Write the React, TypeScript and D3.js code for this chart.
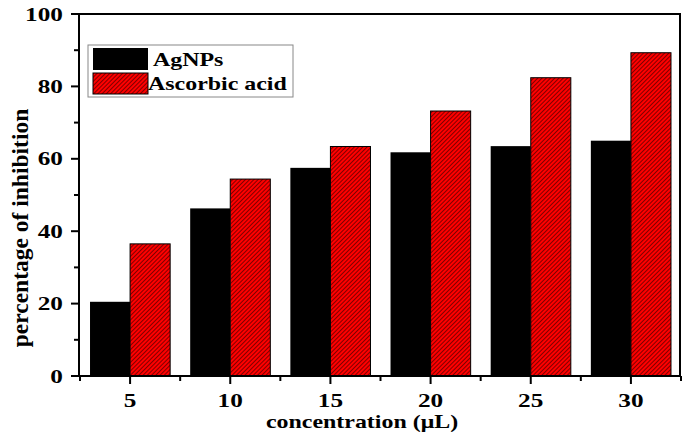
import * as d3 from "d3"

const concentrations = [5, 10, 15, 20, 25, 30]
const agnps = [20.5, 46.3, 57.5, 61.8, 63.5, 65.0]
const ascorbic = [36.5, 54.4, 63.4, 73.2, 82.4, 89.3]
const yTicks = [0, 20, 40, 60, 80, 100]
const seriesNames = ["AgNPs", "Ascorbic acid"]

const W = 685
const H = 440
const M = { left: 79, right: 5, top: 14, bottom: 64 }
const FONT = "'Liberation Serif', 'Times New Roman', serif"
// the source figure is stretched sideways, so its lettering is too
const STRETCH = 1.33

function Label({ x, y, anchor = "start", size, children }: { x: number; y: number; anchor?: string; size: number; children: any }) {
  return (
    <text transform={`translate(${x},${y}) scale(${STRETCH},1)`} textAnchor={anchor} fontSize={size} fontWeight="bold">
      {children}
    </text>
  )
}

export default function App() {
  const x = d3.scaleLinear().domain([2.45, 32.45]).range([M.left, W - M.right])
  const y = d3.scaleLinear().domain([0, 100]).range([H - M.bottom, M.top])
  const barW = x(2) - x(0)
  const x0 = x.range()[0]
  const x1 = x.range()[1]
  const y0 = y(0)
  const yTop = y(100)
  const minorX = d3.range(2.5, 33, 2.5).filter((v) => !concentrations.includes(v))
  const minorY = d3.range(10, 100, 20)

  return (
    <svg width={W} height={H} style={{ position: "absolute", left: 0, top: 0, background: "#fff" }} fontFamily={FONT}>
      <defs>
        <pattern id="hatch" patternUnits="userSpaceOnUse" width={3} height={3} patternTransform="rotate(45)">
          <rect width={3} height={3} fill="#ff0000" />
          <line x1={0} y1={0} x2={0} y2={3} stroke="#000" strokeWidth={1} />
        </pattern>
      </defs>

      {concentrations.map((c, i) => (
        <g key={c}>
          <rect x={x(c) - barW} y={y(agnps[i])} width={barW} height={y0 - y(agnps[i])} fill="#000" />
          <rect
            x={x(c)}
            y={y(ascorbic[i])}
            width={barW}
            height={y0 - y(ascorbic[i])}
            fill="url(#hatch)"
            stroke="#000"
            strokeWidth={1}
          />
        </g>
      ))}

      {/* frame */}
      <rect x={x0} y={yTop} width={x1 - x0} height={y0 - yTop} fill="none" stroke="#000" strokeWidth={2} />

      {/* y axis */}
      {yTicks.map((t) => (
        <g key={t}>
          <line x1={x0 - 8} x2={x0} y1={y(t)} y2={y(t)} stroke="#000" strokeWidth={2} />
          <Label x={x0 - 16} y={y(t) + 6.5} anchor="end" size={19}>
            {t}
          </Label>
        </g>
      ))}
      {minorY.map((t) => (
        <line key={t} x1={x0 - 5} x2={x0} y1={y(t)} y2={y(t)} stroke="#000" strokeWidth={2} />
      ))}

      {/* x axis */}
      {concentrations.map((c) => (
        <g key={c}>
          <line x1={x(c)} x2={x(c)} y1={y0} y2={y0 + 8} stroke="#000" strokeWidth={2} />
          <Label x={x(c)} y={y0 + 31} anchor="middle" size={19}>
            {c}
          </Label>
        </g>
      ))}
      {minorX.map((c) => (
        <line key={c} x1={x(c)} x2={x(c)} y1={y0} y2={y0 + 5} stroke="#000" strokeWidth={2} />
      ))}

      <Label x={362} y={428} anchor="middle" size={18}>
        concentration (μL)
      </Label>
      <text transform="translate(28, 228) rotate(-90)" textAnchor="middle" fontSize={23.5} fontWeight="bold">
        percentage of inhibition
      </text>

      {/* legend */}
      <rect x={88} y={45} width={205} height={52} fill="#fff" stroke="#888" strokeWidth={1} />
      <rect x={93} y={48} width={55} height={22} fill="#000" />
      <rect x={93} y={73} width={55} height={21} fill="url(#hatch)" stroke="#000" strokeWidth={1} />
      <Label x={153} y={66} size={18}>
        {seriesNames[0]}
      </Label>
      <Label x={148} y={90} size={18}>
        {seriesNames[1]}
      </Label>
    </svg>
  )
}
